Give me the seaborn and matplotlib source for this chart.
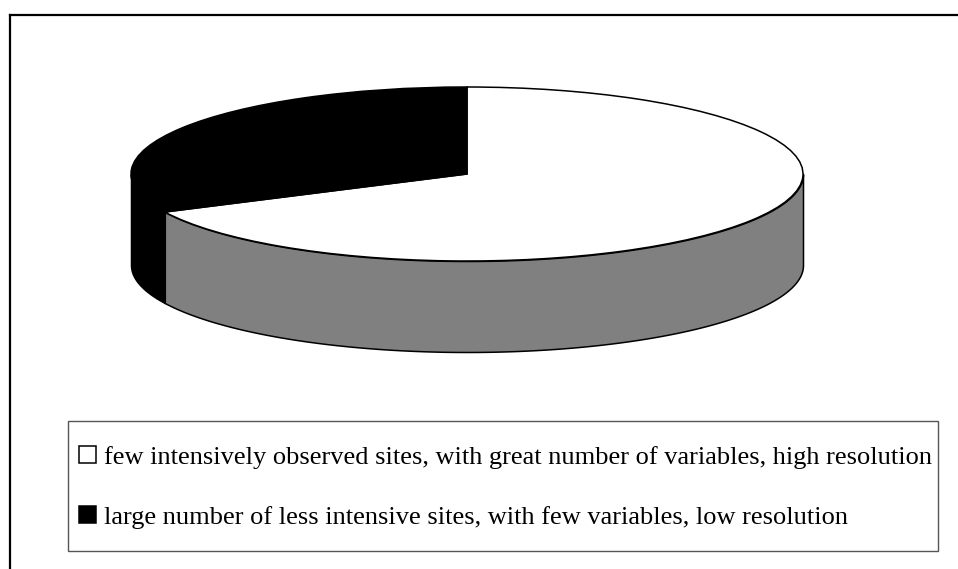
import numpy as np
import seaborn as sns
import matplotlib.pyplot as plt
from matplotlib.patches import Rectangle

# Share of each monitoring approach
labels = ['few intensively observed sites, with great number of variables, high resolution',
          'large number of less intensive sites, with few variables, low resolution']
shares = [67.8, 32.2]
top_colors = ['white', 'black']

W, H = 958, 569
DEPTH = 91 / 87  # wall height, in pie radii

sns.set_theme(style='white')
plt.rcParams['font.family'] = ['Liberation Serif', 'DejaVu Serif']

fig = plt.figure(figsize=(W / 100, H / 100), dpi=100)


def px_axes(x0, y0, x1, y1):
    return fig.add_axes([x0 / W, 1 - y1 / H, (x1 - x0) / W, (y1 - y0) / H])


# Outer frame: only top and left lines are visible in the original
bg = px_axes(10, 15, W + 5, H + 5)
bg.set_xticks([])
bg.set_yticks([])
sns.despine(ax=bg, top=False, left=False, right=True, bottom=True)
for side in ['top', 'left']:
    bg.spines[side].set_color('black')
    bg.spines[side].set_linewidth(1.6)

# Legend box
bg.add_patch(Rectangle((68 / W, 1 - 551 / H), 870 / W, 130 / H, transform=fig.transFigure,
                       facecolor='white', edgecolor='#555555', linewidth=1.0, clip_on=False))

ax = px_axes(131, 87, 803, 352)
ax.patch.set_alpha(0)

# Flat top of the disc
wedges, _ = ax.pie(shares, colors=top_colors, startangle=90, counterclock=False,
                   wedgeprops={'edgecolor': 'black', 'linewidth': 1.1, 'clip_on': False, 'zorder': 3})
ax.set_aspect('auto')
ax.set_xlim(-1, 1)
ax.set_ylim(-1 - DEPTH, 1)

# Visible front walls, taken from the wedge angles
split = wedges[0].theta1 % 360
for start, stop, col in [(180, split, 'black'), (split, 360, '#808080')]:
    t = np.radians(np.linspace(start, stop, 200))
    ax.fill_between(np.cos(t), np.sin(t), np.sin(t) - DEPTH, facecolor=col, edgecolor='black',
                    linewidth=1.1, clip_on=False, zorder=2)

leg = ax.legend(wedges, labels, loc='center left',
                bbox_to_anchor=(79 / W, 1 - 487.5 / H),
                bbox_transform=fig.transFigure, borderaxespad=0, borderpad=0,
                labelspacing=1.42, handlelength=0.64, handleheight=0.62, handletextpad=0.3,
                fontsize=19.0, frameon=False)
for txt in leg.get_texts():
    txt.set_color('black')

fig.savefig('out.png', dpi=100)
